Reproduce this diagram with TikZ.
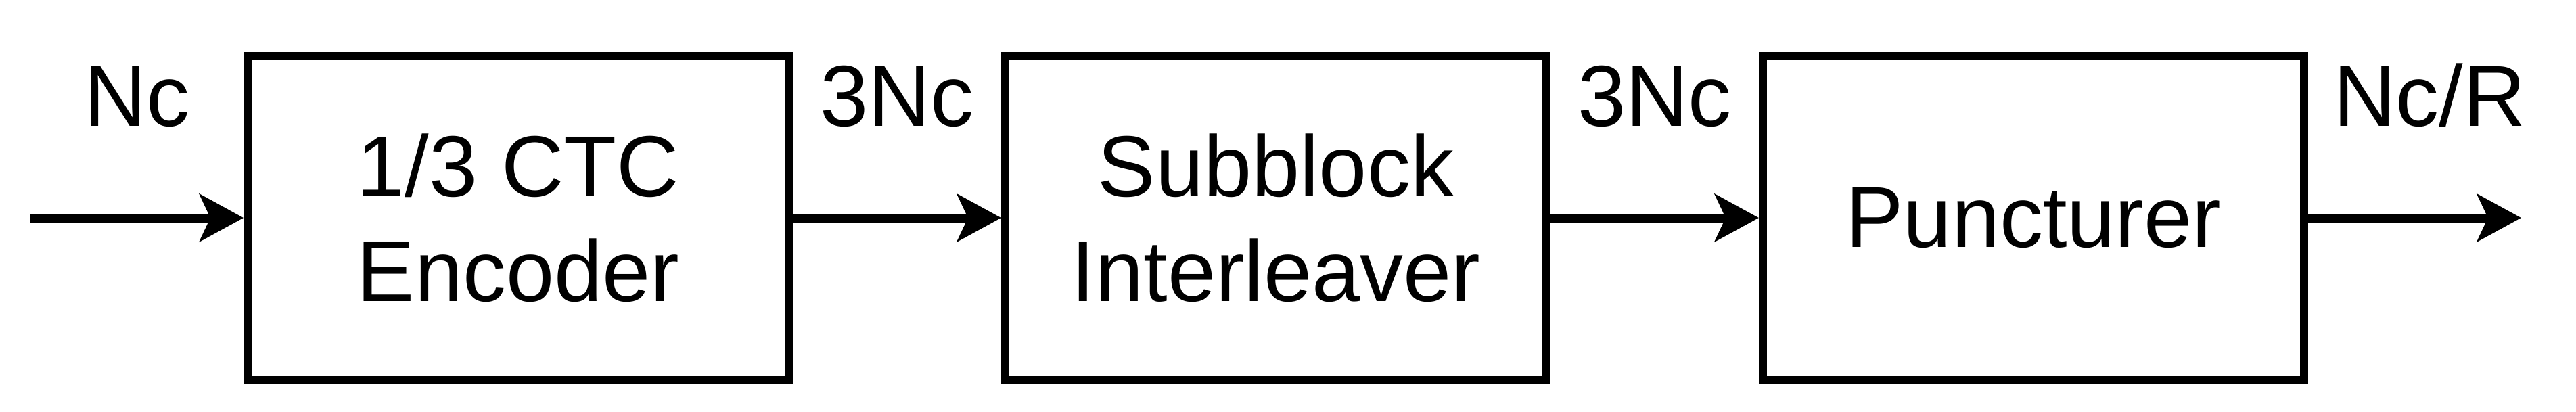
\documentclass[tikz,border=0pt]{standalone}
\usepackage{fontspec}
\setmainfont{Liberation Sans}
\usetikzlibrary{arrows.meta,positioning}
\tikzset{blk/.style={draw=black,line width=3.4pt,minimum width=8cm,minimum height=4.79cm,align=center,inner sep=0pt,font=\fontsize{36.4}{44.1}\selectfont},lbl/.style={anchor=base,yshift=1.36cm,inner sep=0pt,font=\fontsize{36.4}{44.1}\selectfont},flow/.style={-{Stealth[length=6.5mm,width=7mm,inset=1.6mm]},line width=3.7pt}}

\begin{document}
\begin{tikzpicture}[node distance=3.08cm]
\useasboundingbox (0,0) rectangle (38.08,6.08);
\node[blk] (enc) at (7.66,2.86) {1/3 CTC\\Encoder};
\node[blk,right=of enc] (intl) {Subblock\\Interleaver};
\node[blk,right=of intl] (punc) {Puncturer};
\coordinate[left=3.15cm of enc] (in);
\coordinate[right=3.15cm of punc] (out);
\draw[flow] (in) -- node[lbl] (lin) {Nc} (enc);
\draw[flow] (enc) -- node[lbl] (lenc) {3Nc} (intl);
\draw[flow] (intl) -- node[lbl] (lintl) {3Nc} (punc);
\draw[flow] (punc) -- node[lbl,pos=.57] (lout) {Nc/R} (out);
\end{tikzpicture}
\end{document}
